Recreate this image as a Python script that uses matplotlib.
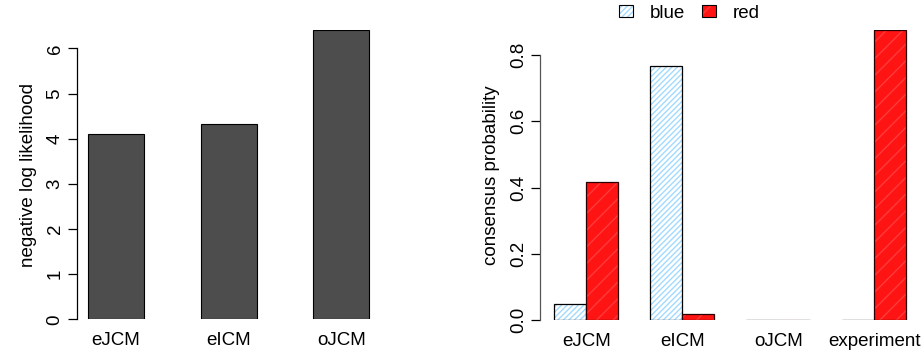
import matplotlib
matplotlib.use("Agg")
import matplotlib.pyplot as plt
from matplotlib.patches import Patch
from matplotlib.legend_handler import HandlerTuple
import numpy as np

plt.rcParams["font.family"] = ["Liberation Sans", "DejaVu Sans"]
plt.rcParams["font.size"] = 13.5

# left panel: model fit
models = ["eJCM", "eICM", "oJCM"]
nll = [4.10, 4.33, 6.40]

# right panel: consensus probability per colour
groups = ["eJCM", "eICM", "oJCM", "experiment"]
blue_prob = [0.047, 0.767, 0.0, 0.0]
red_prob = [0.416, 0.017, 0.001, 0.875]
y_ticks_right = [0.0, 0.2, 0.4, 0.6, 0.8]

W, H = 924, 358
fig = plt.figure(figsize=(W / 100, H / 100), dpi=100)

BLUE_HATCH = "#a3daff"
RED_FILL = "#ff1414"
RED_HATCH = "#ff3a3a"


def px_axes(x0, x1, y_top, y_bot):
    return fig.add_axes([x0 / W, (H - y_bot) / H, (x1 - x0) / W, (y_bot - y_top) / H])


def r_style(ax, lo, hi):
    for side in ("top", "right", "bottom"):
        ax.spines[side].set_visible(False)
    ax.spines["left"].set_bounds(lo, hi)
    ax.spines["left"].set_linewidth(0.9)
    ax.tick_params(axis="y", direction="out", length=6.5, width=0.9, pad=3)
    ax.tick_params(axis="x", length=0, pad=9)
    for lab in ax.get_yticklabels():
        lab.set_rotation(90)
        lab.set_va("center")


# ---- left: negative log likelihood
ax1 = px_axes(76.7, 380.7, 30.3, 319.3)
x1 = np.array([1.5, 3.5, 5.5])
ax1.bar(x1, nll, width=1.0, color="#4d4d4d", edgecolor="black", linewidth=0.8)
ax1.set_xlim(0.8, 6.2)
ax1.set_ylim(0, 6.4)
ax1.set_yticks(range(0, 7))
ax1.set_xticks(x1)
ax1.set_xticklabels(models)
ax1.set_ylabel("negative log likelihood", labelpad=7)
r_style(ax1, 0, 6)

# ---- right: consensus probability
ax2 = px_axes(540.2, 920.4, 30.3, 320)
xb = np.array([1.5, 4.5, 7.5, 10.5])
xr = xb + 1.0
ax2.bar(xb, blue_prob, width=1.0, color="white", edgecolor=BLUE_HATCH,
        hatch="//////", linewidth=0)
ax2.bar(xb, blue_prob, width=1.0, fill=False, edgecolor="black", linewidth=0.9)
ax2.bar(xr, red_prob, width=1.0, color=RED_FILL, edgecolor=RED_HATCH,
        hatch="//", linewidth=0)
ax2.bar(xr, red_prob, width=1.0, fill=False, edgecolor="#2a0000", linewidth=0.9)
ax2.set_xlim(0.56, 12.44)
ax2.set_ylim(0, 0.875)
ax2.set_yticks(y_ticks_right)
ax2.set_yticklabels([f"{v:.1f}" for v in y_ticks_right])
ax2.set_xticks((xb + xr) / 2)
ax2.set_xticklabels(groups)
ax2.set_ylabel("consensus probability", labelpad=7)
r_style(ax2, 0, 0.8)
ax2.spines["left"].set_color("#555555")

# legend keys: hatched swatch under a black outline
blue_key = (
    Patch(facecolor="white", edgecolor=BLUE_HATCH, hatch="//////", linewidth=0),
    Patch(fill=False, edgecolor="black", linewidth=0.8),
)
red_key = (
    Patch(facecolor=RED_FILL, edgecolor=RED_HATCH, hatch="//", linewidth=0),
    Patch(fill=False, edgecolor="black", linewidth=0.8),
)
fig.legend([blue_key, red_key], ["blue", "red"], loc="center",
           bbox_to_anchor=(689.5 / W, 1 - 13 / H),
           handler_map={tuple: HandlerTuple(ndivide=1, pad=0)},
           ncol=2, frameon=False, handlelength=0.75, handleheight=0.6,
           handletextpad=0.9, columnspacing=0.9, borderaxespad=0, borderpad=0)

fig.savefig("out.png", dpi=100, facecolor="white")
